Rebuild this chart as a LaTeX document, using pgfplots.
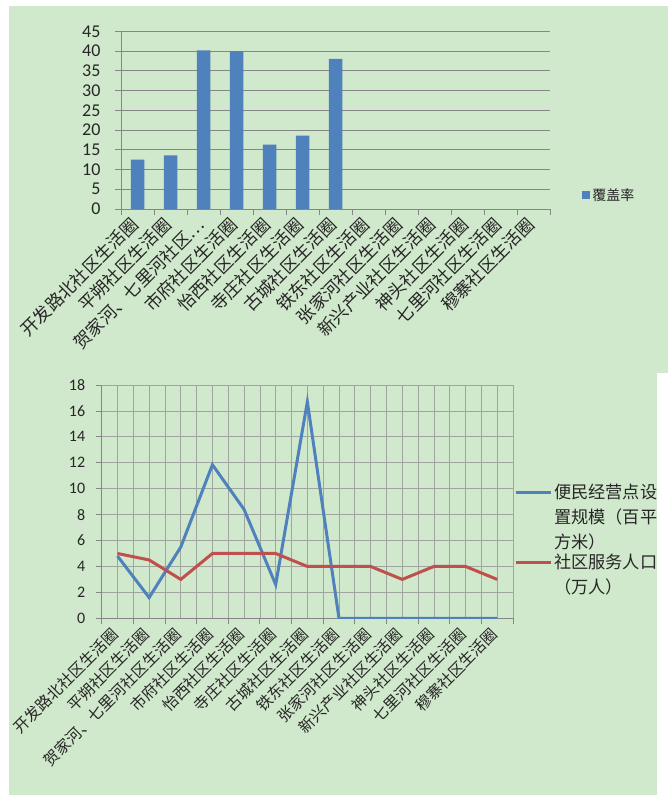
\documentclass[border=0pt]{standalone}
\usepackage{fontspec}
\setmainfont{Carlito}
\newfontfamily\cjk{Noto Sans CJK SC}
\usepackage{pgfplots}
\pgfplotsset{compat=1.18}
\definecolor{bg}{RGB}{208,232,203}
\definecolor{barblue}{RGB}{79,129,189}
\definecolor{linered}{RGB}{192,80,77}
\definecolor{gridg}{RGB}{134,134,134}
\definecolor{gridl}{RGB}{160,165,160}

\begin{document}
\begin{tikzpicture}[x=1pt,y=1pt]
\path[use as bounding box] (0,0) rectangle (668,795);
\fill[bg] (9,789) rectangle (668,422);
\fill[bg] (9,422) rectangle (657,0);

% top: coverage bars
\begin{axis}[
  at={(121pt,586pt)}, anchor=south west,
  scale only axis, width=429pt, height=177.7pt,
  xmin=0.5, xmax=13.5, ymin=0, ymax=45,
  ytick={0,5,...,45},
  xtick={1,...,13},
  xticklabels={开发路北社区生活圈,平朔社区生活圈,贺家河、七里河社区…,市府社区生活圈,怡西社区生活圈,寺庄社区生活圈,古城社区生活圈,铁东社区生活圈,张家河社区生活圈,新兴产业社区生活圈,神头社区生活圈,七里河社区生活圈,穆寨社区生活圈},
  minor xtick={0.5,1.5,...,13.5},
  major x tick style={draw=none},
  tick align=outside, major tick length=6pt, minor tick length=6pt,
  axis lines*=left,
  axis line style={gridg, line width=0.8pt},
  tick style={gridg, line width=0.8pt},
  ymajorgrids, grid style={gridg, line width=0.8pt},
  xticklabel style={rotate=45, anchor=east, font=\cjk\fontsize{17.5}{20}\selectfont, text=black!85},
  xticklabel shift=4pt,
  yticklabel style={font=\fontsize{18}{20}\selectfont, text=black!85, xshift=-6pt},
  yticklabel shift=5pt,
  /pgf/number format/assume math mode=true,
  ybar, bar width=13.5pt,
  legend style={at={(1.075,0.079)}, anchor=west, draw=none, fill=none,
    font=\cjk\fontsize{14}{16}\selectfont, inner sep=0pt, text=black!85},
]
\addplot[fill=barblue, draw=none,
  legend image code/.code={\fill[barblue] (0pt,-4pt) rectangle (8pt,4pt);}]
  coordinates {(1,12.5) (2,13.6) (3,40.2) (4,40) (5,16.3) (6,18.6) (7,38)};
\addlegendentry{覆盖率}
\end{axis}

% bottom: shop scale and population
\begin{axis}[
  at={(101.7pt,176.7pt)}, anchor=south west,
  scale only axis, width=411.3pt, height=233.3pt,
  xmin=0.5, xmax=13.5, ymin=0, ymax=18,
  ytick={0,2,...,18},
  xtick={1,...,13},
  xticklabels={开发路北社区生活圈,平朔社区生活圈,贺家河、七里河社区生活圈,市府社区生活圈,怡西社区生活圈,寺庄社区生活圈,古城社区生活圈,铁东社区生活圈,张家河社区生活圈,新兴产业社区生活圈,神头社区生活圈,七里河社区生活圈,穆寨社区生活圈},
  minor xtick={0.5,1.5,...,13.5},
  major x tick style={draw=none},
  tick align=outside, major tick length=6pt, minor tick length=6pt,
  axis lines*=left,
  axis line style={gridg, line width=0.8pt},
  tick style={gridg, line width=0.8pt},
  xmajorgrids, xminorgrids, ymajorgrids,
  major grid style={gridl, line width=0.7pt},
  minor grid style={gridl, line width=0.7pt},
  xticklabel style={rotate=45, anchor=east, font=\cjk\fontsize{15.5}{18}\selectfont, text=black!85},
  xticklabel shift=5pt,
  yticklabel style={font=\fontsize{16}{19}\selectfont, text=black!85, xshift=-3pt},
  yticklabel shift=4pt,
  /pgf/number format/assume math mode=true,
  legend style={at={(1.002,0.336)}, anchor=west, draw=none, fill=none,
    font=\cjk\fontsize{17.2}{25}\selectfont, inner sep=0pt, text=black!85,
    cells={align=left}, row sep=0pt},
  legend cell align=left,
]
\addplot[barblue, line width=3pt, sharp plot,
  legend image code/.code={\draw[barblue, line width=3pt] (0pt,25pt) -- (35pt,25pt);}]
  coordinates {(1,4.8) (2,1.6) (3,5.5) (4,11.85) (5,8.4) (6,2.6) (7,16.7) (8,0) (9,0) (10,0) (11,0) (12,0) (13,0)};
\addlegendentry{便民经营点设\\置规模（百平\\方米）}
\addplot[linered, line width=3pt, sharp plot,
  legend image code/.code={\draw[linered, line width=3pt] (0pt,12.5pt) -- (35pt,12.5pt);}]
  coordinates {(1,5) (2,4.5) (3,3) (4,5) (5,5) (6,5) (7,4) (8,4) (9,4) (10,3) (11,4) (12,4) (13,3)};
\addlegendentry{社区服务人口\\（万人）}
\end{axis}
\end{tikzpicture}
\end{document}
